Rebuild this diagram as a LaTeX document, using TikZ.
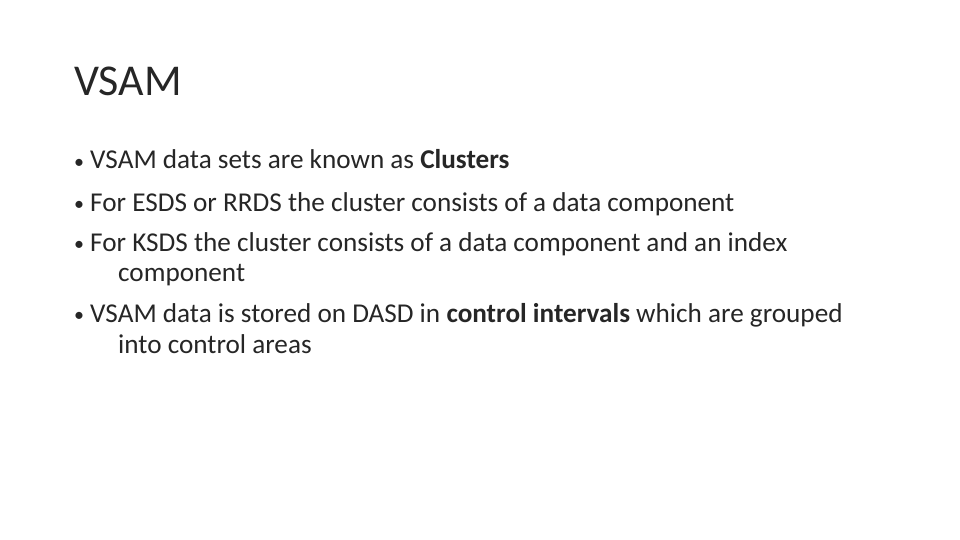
\documentclass[tikz,border=0pt]{standalone}
\usepackage{fontspec}
\setmainfont{Carlito}
\begin{document}
\begin{tikzpicture}[x=1pt,y=-1pt,
  txt/.style={anchor=base west,inner sep=0pt,font=\fontsize{27.2}{30}\selectfont,text=black!85},
  bul/.style={anchor=base west,inner sep=0pt,font=\fontsize{20}{24}\selectfont,text=black!85},
  ttl/.style={anchor=base west,inner sep=0pt,font=\fontsize{44}{50}\selectfont,text=black!85}]
\useasboundingbox[fill=white] (0,0) rectangle (960,540);
\node[ttl] (title) at (74,96) {VSAM};
\foreach \y/\n in {169/1,211/2,251/3,322/4} \node[bul] (d\n) at (74,\y-1) {•};
\node[txt] (b1) at (90,169) {VSAM data sets are known as \textbf{Clusters}};
\node[txt] (b2) at (90,211) {For ESDS or RRDS the cluster consists of a data component};
\node[txt] (b3) at (90,251) {For KSDS the cluster consists of a data component and an index};
\node[txt] (b3b) at (118,281) {component};
\node[txt] (b4) at (90,322) {VSAM data is stored on DASD in \textbf{control intervals} which are grouped};
\node[txt] (b4b) at (118,353) {into control areas};
\end{tikzpicture}
\end{document}
